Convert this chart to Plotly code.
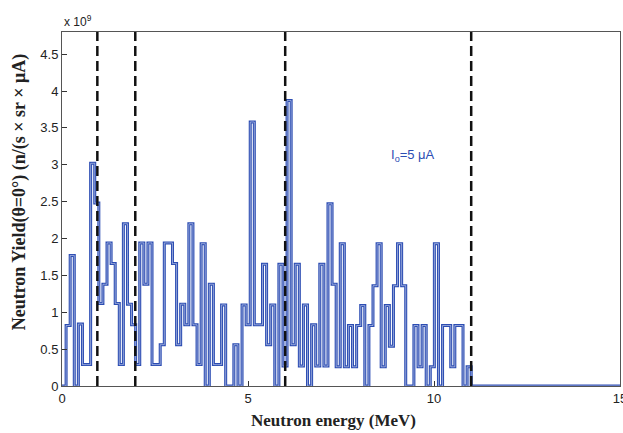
import plotly.graph_objects as go

# Neutron yield per energy bin (units of 1e9 n/(s x sr x uA)), bins of 0.11 MeV from 0 to 11 MeV
bin_width = 0.11
yield_e9 = [
    0, 0.82, 1.77, 0, 0.84, 0.29, 0.29, 3.02, 2.48, 1.12,
    1.38, 1.94, 1.66, 1.12, 0.29, 2.2, 1.11, 0.83, 0.29, 1.94,
    1.38, 1.94, 0.29, 0.29, 0.56, 1.94, 1.94, 1.66, 0.56, 1.11,
    0.83, 2.2, 0.83, 0.29, 1.93, 0, 1.38, 0.29, 0.29, 1.1,
    0, 0, 0.56, 0, 1.1, 0.83, 3.58, 0.83, 0.83, 1.65,
    0.56, 1.1, 0, 1.65, 0.27, 3.87, 0.56, 1.65, 0.27, 1.1,
    0, 0.83, 0.27, 1.65, 0.27, 2.47, 1.38, 0.26, 1.93, 0.26,
    0.82, 0.26, 0.82, 1.09, 0, 0.82, 1.36, 1.93, 0.26, 1.09,
    0.54, 1.36, 1.93, 1.36, 0, 0, 0.82, 0.26, 0.82, 0,
    0.26, 1.93, 0, 0.82, 0.82, 0.26, 0.82, 0.82, 0, 0.26,
]
x_max = 15
boundaries = [0.95, 1.97, 6, 11]
y_ticks = [0, 0.5, 1, 1.5, 2, 2.5, 3, 3.5, 4, 4.5]
x_ticks = [0, 5, 10, 15]

edges = [i * bin_width for i in range(len(yield_e9) + 1)]
xs = edges + [x_max]
ys = yield_e9 + [0, 0]

blue = "#2c4db3"
fig = go.Figure()
fig.add_trace(go.Scatter(x=xs, y=ys, mode="lines", line=dict(shape="hv", color=blue, width=3),
                         hoverinfo="skip", showlegend=False))
fig.add_trace(go.Scatter(x=xs, y=ys, mode="lines", line=dict(shape="hv", color="rgba(255,255,255,0.6)", width=0.8),
                         hoverinfo="skip", showlegend=False))

for b in boundaries:
    fig.add_shape(type="line", x0=b, x1=b, y0=0, y1=4.8, xref="x", yref="y",
                  line=dict(color="#111111", width=2.5, dash="10px,5px"))

axis_font = dict(family="Liberation Sans, Arial, sans-serif", size=13, color="#222")
fig.update_xaxes(range=[0, x_max], tickvals=x_ticks, ticks="inside", ticklen=5, tickcolor="#333",
                 showline=True, linecolor="#555", linewidth=1, mirror=True, showgrid=False,
                 zeroline=False, tickfont=axis_font, ticklabeloverflow="allow", automargin=False)
fig.update_yaxes(range=[0, 4.8], tickvals=y_ticks, ticks="inside", ticklen=5, tickcolor="#333",
                 showline=True, linecolor="#555", linewidth=1, mirror=True, showgrid=False,
                 zeroline=False, tickfont=axis_font, automargin=False)

title_font = dict(family="Liberation Serif, Times New Roman, serif", size=17, color="#222")
fig.add_annotation(text="<b>Neutron energy (MeV)</b>", xref="paper", yref="paper", x=0.487, y=0,
                   yshift=-34, xanchor="center", yanchor="middle", showarrow=False, font=title_font)
fig.add_annotation(text="<b>Neutron Yield(θ=0°) (n/(s × sr × μA)</b>", xref="paper", yref="paper",
                   x=0, y=0.547, xshift=-43, xanchor="center", yanchor="middle", textangle=-90,
                   showarrow=False, font=dict(family="Liberation Serif, Times New Roman, serif", size=18, color="#222"))
fig.add_annotation(text="x 10<sup>9</sup>", xref="paper", yref="paper", x=0, y=1, xanchor="left",
                   yanchor="bottom", yshift=1, showarrow=False,
                   font=dict(family="Liberation Sans, Arial, sans-serif", size=12, color="#222"))
fig.add_annotation(text="I<sub>o</sub>=5 μA", xref="x", yref="y", x=8.8, y=3.12, xanchor="left",
                   yanchor="middle", showarrow=False,
                   font=dict(family="Liberation Sans, Arial, sans-serif", size=13, color=blue))

fig.update_layout(width=623, height=433, margin=dict(l=62, r=3, t=32, b=47),
                  paper_bgcolor="white", plot_bgcolor="white")
fig.write_html("out.html")
